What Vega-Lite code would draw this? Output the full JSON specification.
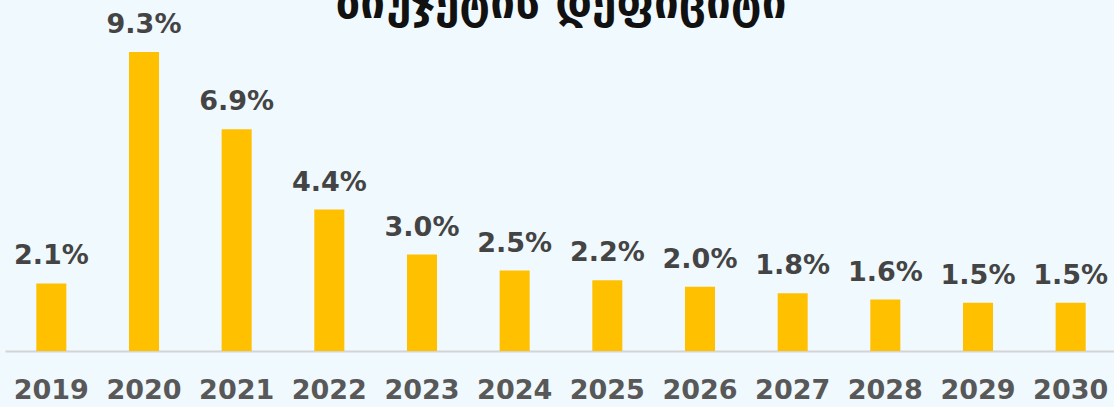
{
  "$schema": "https://vega.github.io/schema/vega-lite/v6.json",
  "width": 1112,
  "height": 299,
  "autosize": {"type": "none"},
  "padding": {"left": 5, "top": 52, "right": 0, "bottom": 56},
  "background": "#F0F9FD",
  "title": {
    "text": "ბიუჯეტის დეფიციტი",
    "font": "DejaVu Sans",
    "fontSize": 44,
    "fontWeight": "bold",
    "color": "#111111",
    "anchor": "middle",
    "baseline": "alphabetic",
    "offset": -51
  },
  "config": {
    "view": {"stroke": null},
    "font": "DejaVu Sans"
  },
  "data": {
    "values": [
      {"year": "2019", "value": 2.1, "label": "2.1%"},
      {"year": "2020", "value": 9.3, "label": "9.3%"},
      {"year": "2021", "value": 6.9, "label": "6.9%"},
      {"year": "2022", "value": 4.4, "label": "4.4%"},
      {"year": "2023", "value": 3.0, "label": "3.0%"},
      {"year": "2024", "value": 2.5, "label": "2.5%"},
      {"year": "2025", "value": 2.2, "label": "2.2%"},
      {"year": "2026", "value": 2.0, "label": "2.0%"},
      {"year": "2027", "value": 1.8, "label": "1.8%"},
      {"year": "2028", "value": 1.6, "label": "1.6%"},
      {"year": "2029", "value": 1.5, "label": "1.5%"},
      {"year": "2030", "value": 1.5, "label": "1.5%"}
    ]
  },
  "encoding": {
    "x": {
      "field": "year",
      "type": "nominal",
      "sort": null,
      "scale": {"paddingInner": 0.676, "paddingOuter": 0.338},
      "axis": {
        "title": null,
        "labelAngle": 0,
        "labelFont": "DejaVu Sans",
        "labelFontSize": 27,
        "labelFontWeight": "bold",
        "labelColor": "#585858",
        "labelPadding": 26,
        "ticks": false,
        "domainColor": "#d4d4d4",
        "domainWidth": 2,
        "grid": false
      }
    },
    "y": {
      "field": "value",
      "type": "quantitative",
      "scale": {"domain": [0, 9.3], "nice": false},
      "axis": null
    }
  },
  "layer": [
    {"mark": {"type": "bar", "color": "#FFC000"}},
    {
      "mark": {
        "type": "text",
        "baseline": "alphabetic",
        "dy": -19,
        "font": "DejaVu Sans",
        "fontSize": 27,
        "fontWeight": "bold",
        "color": "#444444"
      },
      "encoding": {"text": {"field": "label"}}
    }
  ]
}
